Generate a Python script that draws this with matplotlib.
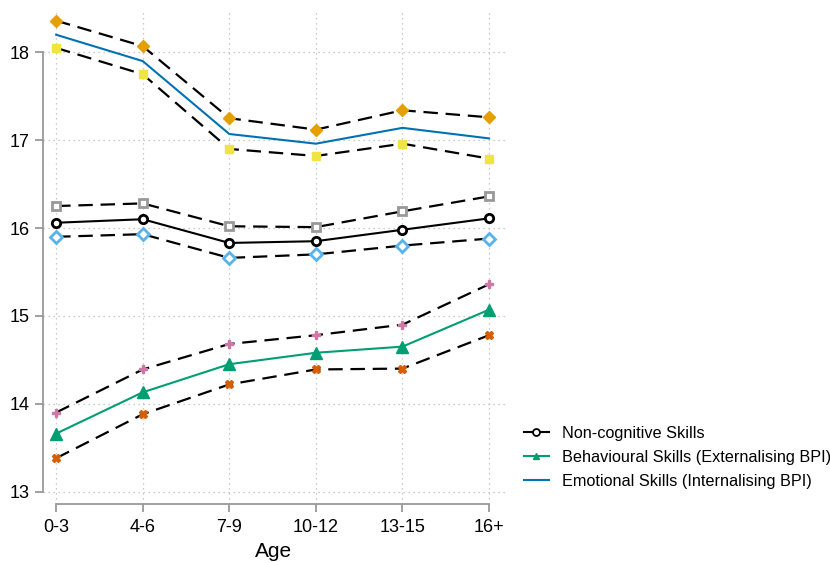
import matplotlib
matplotlib.use('Agg')
from matplotlib import pyplot as plt
import numpy as np

plt.rcParams['font.family'] = ['Liberation Sans', 'DejaVu Sans']

ages = ['0-3', '4-6', '7-9', '10-12', '13-15', '16+']

# emotional skills (internalising BPI) with bounds
emo = [18.20, 17.90, 17.07, 16.96, 17.14, 17.02]
emo_hi = [18.36, 18.07, 17.25, 17.12, 17.34, 17.26]
emo_lo = [18.05, 17.75, 16.90, 16.82, 16.96, 16.79]

# non-cognitive skills with bounds
noncog = [16.06, 16.10, 15.83, 15.85, 15.98, 16.11]
noncog_hi = [16.25, 16.28, 16.02, 16.01, 16.19, 16.36]
noncog_lo = [15.90, 15.93, 15.66, 15.70, 15.80, 15.88]

# behavioural skills (externalising BPI) with bounds
beh = [13.66, 14.13, 14.45, 14.58, 14.65, 15.07]
beh_hi = [13.90, 14.39, 14.68, 14.78, 14.90, 15.36]
beh_lo = [13.38, 13.88, 14.22, 14.39, 14.40, 14.78]

x = np.arange(len(ages))

fig = plt.figure(figsize=(8.3, 5.63), dpi=100)
ax = fig.add_axes([0.052, 0.105, 0.556, 0.877])

dash = dict(color='black', linestyle=(0, (6.5, 3.5)), linewidth=1.6, zorder=2)

# emotional
ax.plot(x, emo_hi, marker='D', markersize=6.5, markerfacecolor='#E69F00',
        markeredgecolor='#E69F00', **dash)
ax.plot(x, emo_lo, marker='s', markersize=6, markerfacecolor='#F0E442',
        markeredgecolor='#F0E442', **dash)
ax.plot(x, emo, color='#0072B2', linewidth=1.5, zorder=3)

# non-cognitive
ax.plot(x, noncog_hi, marker='s', markersize=6, markerfacecolor='white',
        markeredgecolor='#999999', markeredgewidth=2, **dash)
ax.plot(x, noncog_lo, marker='D', markersize=6.5, markerfacecolor='white',
        markeredgecolor='#56B4E9', markeredgewidth=2, **dash)
ax.plot(x, noncog, color='black', linewidth=1.5, marker='o', markersize=6,
        markerfacecolor='white', markeredgecolor='black', markeredgewidth=2, zorder=3)

# behavioural
ax.plot(x, beh_hi, marker='P', markersize=6, markerfacecolor='#CC79A7',
        markeredgecolor='#CC79A7', **dash)
ax.plot(x, beh_lo, marker='X', markersize=6, markerfacecolor='#D55E00',
        markeredgecolor='#D55E00', **dash)
ax.plot(x, beh, color='#009E73', linewidth=1.5, marker='^', markersize=9,
        markerfacecolor='#009E73', markeredgecolor='#009E73', zorder=3)

ax.set_xlim(-0.15, 5.18)
ax.set_ylim(12.86, 18.48)
ax.set_xticks(x)
ax.set_xticklabels(ages)
ax.set_yticks([13, 14, 15, 16, 17, 18])
ax.set_xlabel('Age', fontsize=15, labelpad=4)

ax.grid(True, linestyle=(0, (1, 3)), color='#bbbbbb', linewidth=0.9)
ax.set_axisbelow(True)
for s in ['top', 'right']:
    ax.spines[s].set_visible(False)
for s in ['left', 'bottom']:
    ax.spines[s].set_color('#999999')
    ax.spines[s].set_linewidth(1.3)
ax.spines['left'].set_bounds(13, 18)
ax.spines['bottom'].set_bounds(0, 5)
ax.tick_params(axis='both', colors='#999999', labelcolor='black', labelsize=13,
               length=6, width=1.3)
ax.tick_params(axis='x', pad=5)

# legend
h1, = ax.plot([], [], color='black', linewidth=1.5, marker='o', markersize=5,
              markerfacecolor='white', markeredgewidth=1.3)
h2, = ax.plot([], [], color='#009E73', linewidth=1.5, marker='^', markersize=5)
h3, = ax.plot([], [], color='#0072B2', linewidth=1.5)
fig.legend([h1, h2, h3],
           ['Non-cognitive Skills', 'Behavioural Skills (Externalising BPI)',
            'Emotional Skills (Internalising BPI)'],
           loc='center left', bbox_to_anchor=(0.614, 0.188), frameon=False,
           fontsize=11.7, handlelength=1.5, handletextpad=0.8, labelspacing=0.55)

plt.savefig('out.png', dpi=100)
